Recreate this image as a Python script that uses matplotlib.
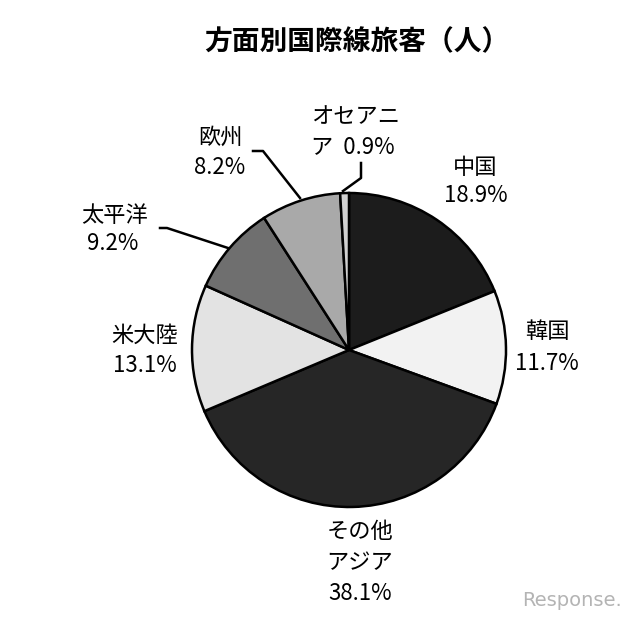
import matplotlib
matplotlib.use("Agg")
import matplotlib.pyplot as plt

plt.rcParams['font.family'] = ['Noto Sans CJK JP', 'DejaVu Sans']

# data, clockwise from the top
regions = ["中国", "韓国", "その他\nアジア", "米大陸", "太平洋", "欧州", "オセアニア"]
shares = [18.9, 11.7, 38.1, 13.1, 9.2, 8.2, 0.9]
colors = ["#1c1c1c", "#f2f2f2", "#262626", "#e3e3e3", "#6f6f6f", "#a9a9a9", "#d0d0d0"]

H = 623
fig = plt.figure(figsize=(6.4, 6.23), dpi=100)
ax = fig.add_axes([0, 0, 1, 1])

ax.pie(shares, colors=colors, startangle=90, counterclock=False,
       center=(349, H - 350), radius=157,
       wedgeprops=dict(edgecolor="black", linewidth=1.8))
ax.set_xlim(0, 640)
ax.set_ylim(0, H)
ax.set_aspect("equal")
ax.axis("off")

fs = 16
def lab(x, y, s, **kw):
    ax.text(x, H - y, s, fontsize=fs, ha=kw.pop("ha", "center"), va="center", **kw)

pct = [f"{v:.1f}%" for v in shares]

# 中国
lab(475, 168, regions[0]); lab(476, 196, pct[0])
# 韓国
lab(547, 332, regions[1]); lab(547, 364, pct[1])
# その他アジア
name = regions[2].split("\n")
lab(360, 532, name[0]); lab(360, 563, name[1]); lab(360, 593, pct[2])
# 米大陸
lab(145, 335, regions[3]); lab(145, 365, pct[3])
# 太平洋
lab(115, 215, regions[4]); lab(113, 243, pct[4])
# 欧州
lab(220, 137, regions[5]); lab(220, 168, pct[5])
# オセアニア
lab(311, 117, regions[6][:4], ha="left")
lab(311, 147, regions[6][4:] + "  " + pct[6], ha="left")

# leader lines
lines = [
    [(253, 151), (263, 151), (300, 198)],
    [(160, 228), (167, 228), (228, 248)],
    [(361, 163), (361, 178), (343, 191)],
]
for pts in lines:
    ax.plot([p[0] for p in pts], [H - p[1] for p in pts], color="black", lw=1.8)

ax.text(357, H - 42, "方面別国際線旅客（人）", fontsize=20, fontweight="bold",
        ha="center", va="center")

ax.text(572, H - 600, "Response.", fontsize=14, color="#b4b4b4",
        ha="center", va="center", family="DejaVu Sans")

fig.savefig("out.png", dpi=100)
